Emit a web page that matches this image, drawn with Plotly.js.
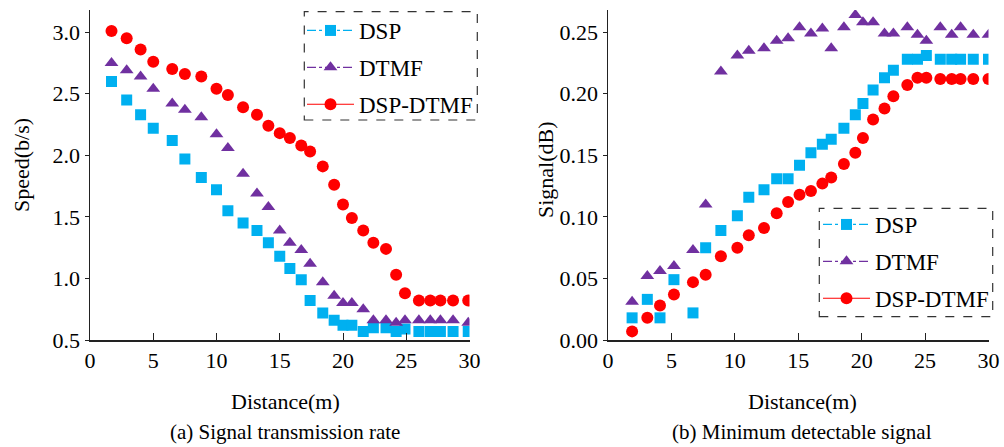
<!DOCTYPE html>
<html><head><meta charset="utf-8">
<script src="https://cdn.plot.ly/plotly-3.0.1.min.js"></script>
<style>html,body{margin:0;padding:0;background:#fff}</style>
</head><body><div id="chart" style="width:1004px;height:447px"></div>
<script>
// Panel (a): signal transmission rate
const distA = [1.7, 2.9, 4.0, 5.0, 6.5, 7.5, 8.8, 10.0, 10.9, 12.1, 13.2, 14.1, 15.0, 15.8, 16.7, 17.4, 18.4, 19.3, 20.0, 20.7, 21.6, 22.4, 23.4, 24.2, 24.9, 26.0, 26.9, 27.7, 28.7, 29.9];
const speedDSP = [2.60, 2.45, 2.33, 2.22, 2.12, 1.97, 1.82, 1.72, 1.55, 1.45, 1.39, 1.29, 1.18, 1.08, 0.99, 0.82, 0.72, 0.66, 0.62, 0.62, 0.57, 0.60, 0.60, 0.57, 0.59, 0.57, 0.57, 0.57, 0.57, 0.57];
const speedDTMF = [2.75, 2.69, 2.64, 2.54, 2.42, 2.37, 2.31, 2.17, 2.06, 1.85, 1.69, 1.58, 1.39, 1.29, 1.23, 1.12, 0.97, 0.86, 0.80, 0.80, 0.75, 0.66, 0.66, 0.64, 0.66, 0.66, 0.66, 0.66, 0.66, 0.64];
const speedHybrid = [3.01, 2.95, 2.86, 2.76, 2.70, 2.66, 2.64, 2.54, 2.49, 2.39, 2.33, 2.24, 2.18, 2.14, 2.08, 2.03, 1.91, 1.76, 1.60, 1.49, 1.39, 1.29, 1.24, 1.03, 0.88, 0.82, 0.82, 0.82, 0.82, 0.82];

// Panel (b): minimum detectable signal
const distB = [1.9, 3.1, 4.1, 5.2, 6.7, 7.7, 8.9, 10.2, 11.1, 12.3, 13.3, 14.2, 15.1, 16.0, 16.9, 17.6, 18.6, 19.5, 20.1, 20.9, 21.8, 22.5, 23.6, 24.4, 25.1, 26.2, 27.1, 27.8, 28.8, 30.0];
const sigDSP = [0.018, 0.033, 0.018, 0.049, 0.022, 0.075, 0.089, 0.101, 0.116, 0.122, 0.131, 0.131, 0.142, 0.152, 0.159, 0.163, 0.172, 0.183, 0.192, 0.203, 0.213, 0.219, 0.228, 0.228, 0.231, 0.228, 0.228, 0.228, 0.228, 0.228];
const sigDTMF = [0.031, 0.052, 0.056, 0.060, 0.073, 0.110, 0.218, 0.231, 0.235, 0.237, 0.243, 0.245, 0.254, 0.249, 0.253, 0.237, 0.254, 0.264, 0.258, 0.258, 0.249, 0.249, 0.254, 0.248, 0.243, 0.254, 0.248, 0.254, 0.248, 0.248];
const sigHybrid = [0.007, 0.018, 0.028, 0.037, 0.047, 0.053, 0.068, 0.075, 0.085, 0.091, 0.103, 0.112, 0.118, 0.121, 0.127, 0.132, 0.143, 0.152, 0.164, 0.179, 0.188, 0.198, 0.207, 0.213, 0.213, 0.212, 0.212, 0.212, 0.212, 0.212];

const seriesNames = ['DSP', 'DTMF', 'DSP-DTMF'];
const xTicks = [0, 5, 10, 15, 20, 25, 30];
const speedTicks = [0.5, 1.0, 1.5, 2.0, 2.5, 3.0];
const signalTicks = [0, 0.05, 0.10, 0.15, 0.20, 0.25];

const colors = ['#00B0F0', '#7030A0', '#FF0000'];
const symbols = ['square', 'triangle-up', 'circle'];
const sizes = [11, 12, 12];
const dashes = ['dashdot', 'dashdot', 'solid'];
const FONT = 'Liberation Serif';

const traces = [];
const panelA = [speedDSP, speedDTMF, speedHybrid];
const panelB = [sigDSP, sigDTMF, sigHybrid];
for (let i = 0; i < 3; i++) {
  traces.push({x: distA, y: panelA[i], xaxis: 'x', yaxis: 'y', mode: 'markers', showlegend: false,
    marker: {color: colors[i], symbol: symbols[i], size: sizes[i]}});
  traces.push({x: distB, y: panelB[i], xaxis: 'x2', yaxis: 'y2', mode: 'markers', showlegend: false,
    marker: {color: colors[i], symbol: symbols[i], size: sizes[i]}});
}
for (let i = 0; i < 3; i++) {
  traces.push({x: [null], y: [null], xaxis: 'x', yaxis: 'y', name: seriesNames[i], mode: 'lines+markers',
    legend: 'legend', legendgroup: 'a' + i,
    line: {color: colors[i], width: 1.2, dash: dashes[i]},
    marker: {color: colors[i], symbol: symbols[i], size: sizes[i]}});
  traces.push({x: [null], y: [null], xaxis: 'x2', yaxis: 'y2', name: seriesNames[i], mode: 'lines+markers',
    legend: 'legend2', legendgroup: 'b' + i,
    line: {color: colors[i], width: 1.2, dash: dashes[i]},
    marker: {color: colors[i], symbol: symbols[i], size: sizes[i]}});
}

const W = 1004, H = 447;
const px = v => v / W, py = v => 1 - v / H;

const xCommon = {
  range: [0, 30], tickvals: xTicks, ticks: 'inside', ticklen: 7, tickwidth: 1, tickcolor: '#222',
  showline: true, linecolor: '#222', linewidth: 1.5, showgrid: false, zeroline: false,
  tickfont: {family: FONT, size: 22, color: '#000'}, ticklabelstandoff: 0, fixedrange: true
};
const yCommon = {
  ticks: 'outside', ticklen: 4, tickwidth: 1, tickcolor: '#222',
  showline: true, linecolor: '#222', linewidth: 1.5, showgrid: false, zeroline: false,
  tickfont: {family: FONT, size: 22, color: '#000'}, ticklabelstandoff: 0,
  domain: [py(340), py(10)], fixedrange: true
};

const legendCommon = {
  bgcolor: 'rgba(0,0,0,0)', borderwidth: 0, font: {family: FONT, size: 23, color: '#000'},
  traceorder: 'grouped', tracegroupgap: 4, xanchor: 'left', yanchor: 'top', itemclick: false,
  itemwidth: 47
};

const layout = {
  width: W, height: H, margin: {l: 0, r: 0, t: 0, b: 0},
  paper_bgcolor: '#fff', plot_bgcolor: '#fff',
  font: {family: FONT, color: '#000'},
  xaxis: Object.assign({}, xCommon, {domain: [px(90), px(469.5)], anchor: 'y'}),
  yaxis: Object.assign({}, yCommon, {range: [0.5, 3.18], tickvals: speedTicks, tickformat: '.1f', anchor: 'x'}),
  xaxis2: Object.assign({}, xCommon, {domain: [px(608), px(988.5)], anchor: 'y2'}),
  yaxis2: Object.assign({}, yCommon, {range: [0, 0.268], tickvals: signalTicks, tickformat: '.2f', anchor: 'x2'}),
  legend: Object.assign({}, legendCommon, {x: px(302), y: py(9)}),
  legend2: Object.assign({}, legendCommon, {x: px(818), y: py(203)}),
  shapes: [
    {type: 'rect', xref: 'paper', yref: 'paper', x0: px(304.3), x1: px(477.3), y0: py(120), y1: py(11.7),
     line: {color: '#333', width: 1.2, dash: 'dash'}},
    {type: 'rect', xref: 'paper', yref: 'paper', x0: px(819.3), x1: px(992.7), y0: py(316.7), y1: py(208.3),
     line: {color: '#333', width: 1.2, dash: 'dash'}}
  ],
  annotations: [
    {text: 'Speed(b/s)', xref: 'paper', yref: 'paper', x: px(21), y: py(165), textangle: -90, showarrow: false,
     font: {family: FONT, size: 22}, xanchor: 'center', yanchor: 'middle'},
    {text: 'Signal(dB)', xref: 'paper', yref: 'paper', x: px(545), y: py(170), textangle: -90, showarrow: false,
     font: {family: FONT, size: 22}, xanchor: 'center', yanchor: 'middle'},
    {text: 'Distance(m)', xref: 'paper', yref: 'paper', x: px(285), y: py(401), showarrow: false,
     font: {family: FONT, size: 22}, xanchor: 'center', yanchor: 'middle'},
    {text: 'Distance(m)', xref: 'paper', yref: 'paper', x: px(802), y: py(401), showarrow: false,
     font: {family: FONT, size: 22}, xanchor: 'center', yanchor: 'middle'},
    {text: '(a) Signal transmission rate', xref: 'paper', yref: 'paper', x: px(285), y: py(432), showarrow: false,
     font: {family: FONT, size: 21}, xanchor: 'center', yanchor: 'middle'},
    {text: '(b) Minimum detectable signal', xref: 'paper', yref: 'paper', x: px(802), y: py(432), showarrow: false,
     font: {family: FONT, size: 21}, xanchor: 'center', yanchor: 'middle'}
  ]
};

Plotly.newPlot('chart', traces, layout, {displayModeBar: false, staticPlot: true});
</script></body></html>
